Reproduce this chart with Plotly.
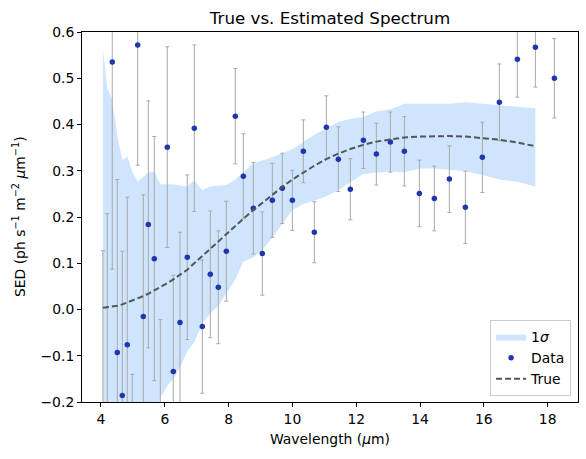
import plotly.graph_objects as go

# ---- data ----
wavelength = [4.06, 4.197, 4.354, 4.511, 4.668, 4.824, 4.98, 5.15, 5.326, 5.483,
              5.671, 5.859, 6.078, 6.266, 6.476, 6.705, 6.925, 7.176, 7.426, 7.677,
              7.928, 8.21, 8.461, 8.774, 9.056, 9.37, 9.683, 9.997, 10.342, 10.687,
              11.063, 11.439, 11.815, 12.223, 12.63, 13.069, 13.508, 13.978, 14.448, 14.918,
              15.42, 15.953, 16.486, 17.05, 17.615, 18.21]
flux = [-0.37, -0.26, 0.535, -0.093, -0.186, -0.076, -0.44, 0.572, -0.015, 0.184,
        0.110, -0.26, 0.351, -0.134, -0.028, 0.113, 0.392, -0.037, 0.076, 0.048,
        0.126, 0.418, 0.288, 0.219, 0.121, 0.236, 0.262, 0.236, 0.342, 0.167,
        0.394, 0.325, 0.260, 0.366, 0.336, 0.362, 0.342, 0.251, 0.240, 0.282,
        0.221, 0.329, 0.448, 0.541, 0.567, 0.500]
flux_err = [0.497, 0.467, 0.448, 0.374, 0.312, 0.319, 0.30, 0.26, 0.263, 0.267,
            0.264, 0.238, 0.217, 0.208, 0.195, 0.178, 0.18, 0.144, 0.137, 0.122,
            0.108, 0.103, 0.092, 0.099, 0.09, 0.08, 0.076, 0.065, 0.068, 0.066,
            0.068, 0.07, 0.066, 0.061, 0.067, 0.065, 0.075, 0.072, 0.07, 0.072,
            0.078, 0.076, 0.083, 0.082, 0.086, 0.086]

model_x = wavelength[:-1]
band_hi = [0.563, 0.478, 0.454, 0.376, 0.323, 0.331, 0.298, 0.276, 0.287, 0.296,
           0.298, 0.271, 0.271, 0.271, 0.268, 0.266, 0.279, 0.258, 0.266, 0.268,
           0.269, 0.281, 0.296, 0.316, 0.322, 0.329, 0.338, 0.346, 0.362, 0.378,
           0.392, 0.406, 0.412, 0.416, 0.428, 0.433, 0.445, 0.445, 0.445, 0.445,
           0.448, 0.445, 0.442, 0.439, 0.435]
band_lo = [-0.56, -0.50, -0.45, -0.40, -0.37, -0.35, -0.33, -0.30, -0.28, -0.25,
           -0.24, -0.19, -0.165, -0.15, -0.125, -0.09, -0.07, -0.03, -0.008, 0.008,
           0.035, 0.065, 0.103, 0.113, 0.128, 0.155, 0.185, 0.215, 0.228, 0.235,
           0.245, 0.258, 0.275, 0.293, 0.296, 0.298, 0.297, 0.305, 0.305, 0.302,
           0.299, 0.291, 0.281, 0.276, 0.266]
true_sed = [0.004, 0.005, 0.006, 0.008, 0.011, 0.015, 0.019, 0.024, 0.029, 0.034,
            0.041, 0.048, 0.057, 0.065, 0.076, 0.086, 0.100, 0.116, 0.131, 0.146,
            0.162, 0.180, 0.196, 0.215, 0.231, 0.249, 0.265, 0.281, 0.296, 0.311,
            0.325, 0.337, 0.347, 0.356, 0.363, 0.368, 0.372, 0.374, 0.375, 0.375,
            0.374, 0.371, 0.367, 0.361, 0.353]

x_ticks = [4, 6, 8, 10, 12, 14, 16, 18]
y_ticks = [-0.2, -0.1, 0.0, 0.1, 0.2, 0.3, 0.4, 0.5, 0.6]

FONT = "DejaVu Sans"
FS = 13.9

fig = go.Figure()
fig.add_trace(go.Scatter(x=model_x, y=band_lo, mode="lines", line=dict(width=0),
                         showlegend=False, hoverinfo="skip"))
fig.add_trace(go.Scatter(x=model_x, y=band_hi, mode="lines", line=dict(width=0),
                         fill="tonexty", fillcolor="#cfe5fd", name="1<i>σ</i>"))
fig.add_trace(go.Scatter(x=wavelength, y=flux, mode="markers", name="Data",
                         marker=dict(color="#1f36ad", size=5.5),
                         error_y=dict(type="data", array=flux_err, color="#a9a9a9",
                                      thickness=1, width=2)))
fig.add_trace(go.Scatter(x=model_x, y=true_sed, mode="lines", name="True",
                         line=dict(color="#50555e", width=2, dash="6px,3px")))

axis_common = dict(showline=True, linecolor="black", linewidth=1, mirror=True,
                   ticks="outside", ticklen=4, tickcolor="black", showgrid=False,
                   zeroline=False, tickfont=dict(family=FONT, size=FS, color="black"))

fig.update_layout(
    width=586, height=459,
    margin=dict(l=82, r=8, t=32, b=57),
    plot_bgcolor="white", paper_bgcolor="white",
    font=dict(family=FONT, size=FS, color="black"),
    title=dict(text="True vs. Estimated Spectrum", x=0.5, xref="paper", xanchor="center",
               y=1 - 18 / 459, yref="container", yanchor="middle",
               font=dict(family=FONT, size=16.7, color="black")),
    xaxis=dict(range=[3.405, 18.95], tickvals=x_ticks, **axis_common),
    yaxis=dict(range=[-0.2, 0.6], tickvals=y_ticks, tickformat=".1f", **axis_common),
    legend=dict(x=0.986, xanchor="right", y=0.016, yanchor="bottom",
                bgcolor="rgba(255,255,255,0.8)", bordercolor="#cccccc", borderwidth=1,
                font=dict(family=FONT, size=FS, color="black"), traceorder="normal",
                tracegroupgap=0, itemwidth=30),
    showlegend=True,
    annotations=[
        dict(text="Wavelength (<i>μ</i>m)", xref="paper", yref="paper", x=0.5, y=-37 / 370,
             xanchor="center", yanchor="middle", showarrow=False,
             font=dict(family=FONT, size=FS, color="black")),
        dict(text="SED (ph s<sup>−1</sup> m<sup>−2</sup> <i>μ</i>m<sup>−1</sup>)",
             xref="paper", yref="paper", x=-63 / 496, y=0.5, textangle=-90,
             xanchor="center", yanchor="middle", showarrow=False,
             font=dict(family=FONT, size=FS, color="black")),
    ],
)

fig.write_html("out.html")
